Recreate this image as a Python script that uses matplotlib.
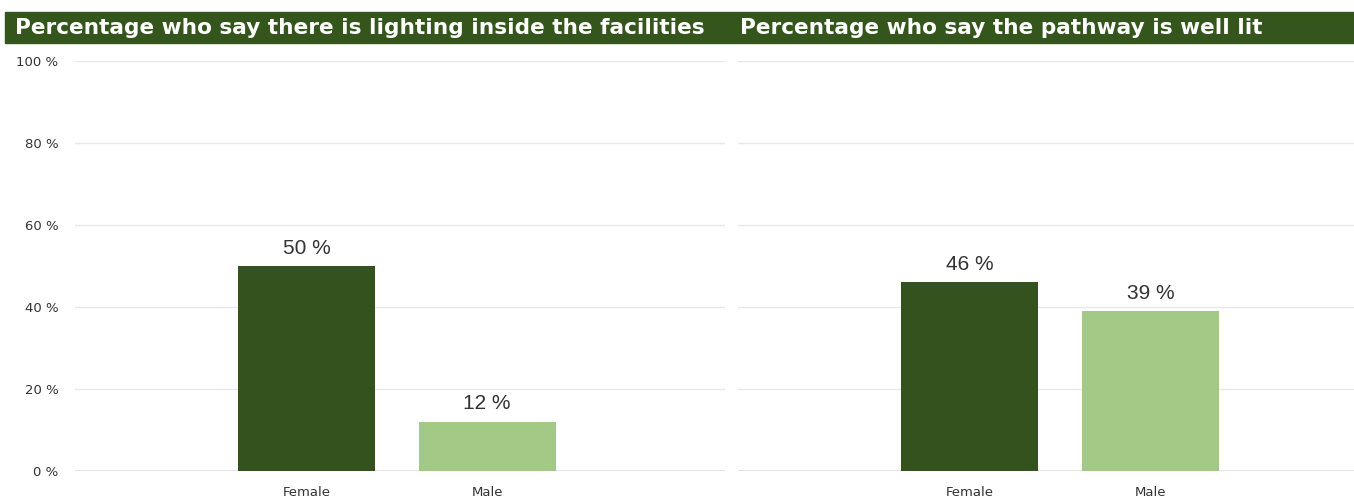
import matplotlib.pyplot as plt
from matplotlib.patches import Rectangle

# survey results, percent answering yes
genders = ["Female", "Male"]
lighting_inside = [50, 12]
pathway_lit = [46, 39]
titles = ["Percentage who say there is lighting inside the facilities",
          "Percentage who say the pathway is well lit"]
yticks = [0, 20, 40, 60, 80, 100]

DARK = "#33521e"
LIGHT = "#a2c986"
TXT = "#333333"

plt.rcParams['font.family'] = ['DejaVu Sans']

W, H = 1354, 504
fig = plt.figure(figsize=(W / 100, H / 100), dpi=100)

# header band behind both titles
fig.patches.append(Rectangle((5 / W, 1 - 43 / H), (W - 5) / W, 31 / H,
                             transform=fig.transFigure, color="#34561c", zorder=0))
fig.text(15 / W, 1 - 28 / H, titles[0], color="white", fontsize=15.6,
         fontweight="bold", va="center")
fig.text(740 / W, 1 - 28 / H, titles[1], color="white", fontsize=15.6,
         fontweight="bold", va="center")

bottom = (H - 471) / H
height = 410 / H
ax1 = fig.add_axes([75 / W, bottom, 650 / W, height])
ax2 = fig.add_axes([738 / W, bottom, 616 / W, height])


def draw(ax, vals, xlim, show_y):
    x = range(len(genders))
    ax.bar(x, vals, width=0.76, color=[DARK, LIGHT], zorder=2)
    for xi, v in zip(x, vals):
        ax.annotate(f"{v} %", (xi, v), xytext=(0, 6), textcoords="offset points",
                    ha="center", va="bottom", fontsize=15, color=TXT,
                    family="Liberation Sans")
    ax.set_xlim(*xlim)
    ax.set_ylim(0, 100)
    ax.set_yticks(yticks)
    ax.set_yticklabels([f"{t} %" for t in yticks] if show_y else [])
    ax.set_xticks(list(x))
    ax.set_xticklabels(genders)
    ax.grid(axis="y", color="#e8e8e8", linewidth=1, zorder=0)
    ax.axhline(0, color="#dddddd", linewidth=1.2, zorder=1)
    ax.tick_params(length=0, labelsize=9.5, colors=TXT)
    ax.tick_params(axis="y", pad=12)
    ax.tick_params(axis="x", pad=11)
    for s in ax.spines.values():
        s.set_visible(False)


draw(ax1, lighting_inside, (-1.283, 2.318), True)
draw(ax2, pathway_lit, (-1.279, 2.124), False)

fig.savefig("out.png", dpi=100)
